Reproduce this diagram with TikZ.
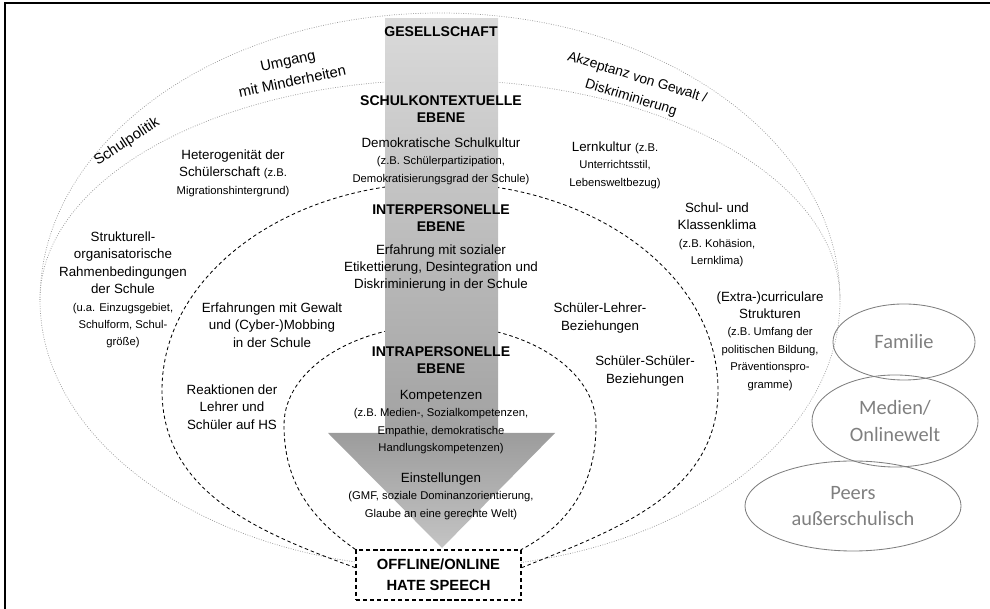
\documentclass[tikz,border=0pt]{standalone}
\usepackage{fontspec}
\setmainfont{Liberation Sans}
\newfontfamily\calibri{Carlito}
\usetikzlibrary{backgrounds, shapes.geometric}

\definecolor{shafttop}{HTML}{DADADA}
\definecolor{shaftbot}{HTML}{A2A2A2}
\definecolor{headtop}{HTML}{9C9C9C}
\definecolor{headbot}{HTML}{C4C4C4}
\definecolor{ctxgray}{HTML}{7F7F7F}
\definecolor{dotgray}{HTML}{9A9A9A}

\newcommand{\sm}[1]{{\fontsize{8}{12.4}\selectfont #1}}

\begin{document}
\begin{tikzpicture}[
    x=0.025cm, y=0.025cm,
    level/.style={font=\bfseries\fontsize{10}{12}\selectfont, align=center, inner sep=0pt},
    factor/.style={font=\fontsize{9.5}{12.4}\selectfont, align=center, inner sep=0pt},
    outer/.style={font=\fontsize{10.5}{15}\selectfont, align=center, inner sep=0pt},
    context/.style={ellipse, draw=ctxgray, line width=0.6pt, text=ctxgray, font=\calibri\fontsize{14.5}{19}\selectfont, align=center, inner sep=0pt},
    ring/.style={black, line width=0.6pt, dash pattern=on 2.5pt off 2pt},
    haze/.style={dotgray, line width=0.5pt, dash pattern=on 0.6pt off 1.1pt}
]

\useasboundingbox (0,0) rectangle (990,609);

% Frame
\draw[line width=1.2pt] (5,0) -- (5,606) -- (990,606);

% Arrow
\shade[top color=shafttop, bottom color=shaftbot] (385,590) rectangle (498,176);
\shade[top color=headtop, bottom color=headbot] (328,176) -- (555,176) -- (442,61) -- cycle;

% Levels
\node[level] (ges) at (441,577) {GESELLSCHAFT};
\node[level] (skE) at (441,500) {SCHULKONTEXTUELLE\\EBENE};
\node[level] (ipE) at (441,391) {INTERPERSONELLE\\EBENE};
\node[level] (iaE) at (441,249) {INTRAPERSONELLE\\EBENE};
\node[level, font=\bfseries\fontsize{10.5}{12}\selectfont, draw, line width=0.8pt, dash pattern=on 3pt off 2pt, fill=white,
      minimum width=4.125cm, minimum height=1.25cm] (hs) at (438.5,34) {OFFLINE/ONLINE\\[3pt]HATE SPEECH};

% Society
\node[outer, rotate=12] (umg) at (290,538) {Umgang\\mit Minderheiten};
\node[outer, rotate=33] (pol) at (127,467) {Schulpolitik};
\node[outer, font=\fontsize{9.8}{15}\selectfont, rotate=-17] (akz) at (634,521) {Akzeptanz von Gewalt /\\Diskriminierung};

% School context
\node[factor] (demo) at (441,448) {Demokratische Schulkultur\\\sm{(z.B. Schülerpartizipation,}\\\sm{Demokratisierungsgrad der Schule)}};
\node[factor] (lern) at (615,444) {Lernkultur \sm{(z.B.}\\\sm{Unterrichtsstil,}\\\sm{Lebensweltbezug)}};
\node[factor] (het) at (233,436) {Heterogenität der\\Schülerschaft \sm{(z.B.}\\\sm{Migrationshintergrund)}};
\node[factor] (struk) at (123,319) {Strukturell-\\organisatorische\\Rahmenbedingungen\\der Schule\\\sm{(u.a. Einzugsgebiet,}\\\sm{Schulform, Schul-}\\\sm{größe)}};
\node[factor] (klima) at (717,374) {Schul- und\\Klassenklima\\\sm{(z.B. Kohäsion,}\\\sm{Lernklima)}};
\node[factor] (curr) at (770,268) {(Extra-)curriculare\\Strukturen\\\sm{(z.B. Umfang der}\\\sm{politischen Bildung,}\\\sm{Präventionspro-}\\\sm{gramme)}};

% Interpersonal
\node[factor] (etik) at (441,341) {Erfahrung mit sozialer\\Etikettierung, Desintegration und\\Diskriminierung in der Schule};
\node[factor] (mobb) at (272,284) {Erfahrungen mit Gewalt\\und (Cyber-)Mobbing\\in der Schule};
\node[factor] (reak) at (232,202) {Reaktionen der\\Lehrer und\\Schüler auf HS};
\node[factor] (slb) at (600,291) {Schüler-Lehrer-\\Beziehungen};
\node[factor] (ssb) at (645,238) {Schüler-Schüler-\\Beziehungen};

% Intrapersonal
\node[factor] (komp) at (441,187) {Kompetenzen\\\sm{(z.B. Medien-, Sozialkompetenzen,}\\\sm{Empathie, demokratische}\\\sm{Handlungskompetenzen)}};
\node[factor] (einst) at (441,113) {Einstellungen\\\sm{(GMF, soziale Dominanzorientierung,}\\\sm{Glaube an eine gerechte Welt)}};

% Outside school
\node[context, minimum width=3.55cm, minimum height=1.9cm] (fam) at (904,267) {Familie};
\node[context, minimum width=4.15cm, minimum height=2.3cm] (med) at (895,188) {Medien/\\Onlinewelt};
\node[context, minimum width=5.4cm, minimum height=2.25cm] (peer) at (853,103) {Peers\\außerschulisch};

% Rings
\begin{scope}[on background layer]
\draw[haze] (40,309) arc[start angle=180, end angle=0, x radius=400, y radius=287]
    arc[start angle=0, end angle=-180, x radius=400, y radius=268];
\draw[haze] (40,309) arc[start angle=180, end angle=0, x radius=400, y radius=220];
\draw[ring] (hs.175) to[out=160, in=-90] (162,219)
    arc[start angle=180, end angle=0, x radius=278, y radius=207]
    to[out=-90, in=22] (hs.5);
\draw[ring] (hs.north west) to[out=145, in=-90] (284,184)
    arc[start angle=180, end angle=0, x radius=156, y radius=100]
    to[out=-90, in=28] (hs.north east);
\end{scope}

\end{tikzpicture}
\end{document}
